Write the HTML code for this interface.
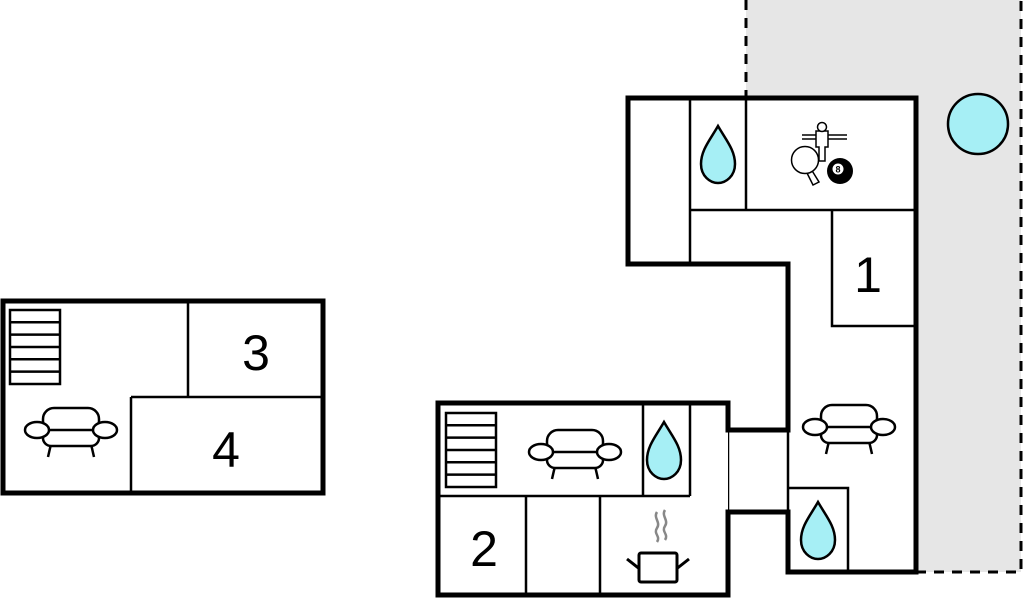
<!DOCTYPE html>
<html><head><meta charset="utf-8"><style>html,body{margin:0;padding:0;background:#fff}svg{display:block}</style></head><body>
<svg width="1024" height="598" viewBox="0 0 1024 598" xmlns="http://www.w3.org/2000/svg">
<defs>
<g id="sofa" fill="#fff" stroke="#000" stroke-width="2.5">
<line x1="-20" y1="36" x2="-23" y2="49"/><line x1="20" y1="36" x2="23" y2="49"/>
<rect x="-28" y="0" width="56" height="24" rx="11"/>
<rect x="-28" y="22" width="56" height="16" rx="8"/>
<ellipse cx="-34" cy="22" rx="12" ry="8"/><ellipse cx="34" cy="22" rx="12" ry="8"/>
</g>
<path id="drop" d="M0,0 C-8,14 -17,24 -17,38 C-17,50 -8,57 0,57 C8,57 17,50 17,38 C17,24 8,14 0,0 Z" fill="#a6eff5" stroke="#000" stroke-width="2.5"/>
<g id="stairs" fill="#fff" stroke="#000" stroke-width="2.5">
<rect x="0" y="0" width="50" height="74"/>
<line x1="0" y1="12.3" x2="50" y2="12.3"/><line x1="0" y1="24.6" x2="50" y2="24.6"/><line x1="0" y1="37" x2="50" y2="37"/><line x1="0" y1="49.3" x2="50" y2="49.3"/><line x1="0" y1="61.6" x2="50" y2="61.6"/>
</g>
</defs>
<!-- terrace -->
<polygon points="746,0 1021,0 1021,572 916,572 916,98 746,98" fill="#e6e6e6"/>
<path d="M746,0 V98 M916,572 H1021 V0" fill="none" stroke="#000" stroke-width="3" stroke-dasharray="10,8"/>
<circle cx="978" cy="124" r="30" fill="#a6eff5" stroke="#000" stroke-width="2.5"/>
<!-- building A fill -->
<polygon points="628,98 916,98 916,572 788,572 788,512 728,512 728,430 788,430 788,264 628,264" fill="#fff"/>
<g stroke="#000" stroke-width="2.5" fill="none">
<line x1="690" y1="98" x2="690" y2="264"/>
<line x1="746" y1="98" x2="746" y2="210"/>
<line x1="690" y1="210" x2="916" y2="210"/>
<polyline points="832,210 832,326 916,326"/>
<polyline points="788,488 848,488 848,572"/>
<line x1="788" y1="430" x2="788" y2="512"/>
<line x1="728" y1="430" x2="728" y2="512"/>
</g>
<g stroke="#000" stroke-width="5" fill="none" stroke-linecap="square">
<polyline points="628,264 628,98 916,98 916,572 788,572 788,512 728,512"/>
<polyline points="628,264 788,264 788,430 728,430"/>
</g>
<!-- building B -->
<rect x="438" y="403" width="290" height="194" fill="#fff"/>
<g stroke="#000" stroke-width="2.5" fill="none">
<line x1="438" y1="496" x2="690" y2="496"/>
<line x1="643" y1="403" x2="643" y2="496"/>
<line x1="690" y1="403" x2="690" y2="496"/>
<line x1="526" y1="496" x2="526" y2="597"/>
<line x1="600" y1="496" x2="600" y2="597"/>
</g>
<polyline points="728,430 728,403 438,403 438,595 728,595 728,512" stroke="#000" stroke-width="5" fill="none" stroke-linecap="square"/>
<!-- building C -->
<rect x="3" y="301" width="320" height="192" fill="#fff" stroke="#000" stroke-width="5"/>
<g stroke="#000" stroke-width="2.5" fill="none">
<line x1="188" y1="301" x2="188" y2="397"/>
<line x1="131" y1="397" x2="323" y2="397"/>
<line x1="131" y1="397" x2="131" y2="493"/>
</g>
<!-- icons -->
<use href="#stairs" x="10" y="310"/>
<use href="#stairs" x="446" y="413"/>
<use href="#sofa" transform="translate(71,408)"/>
<use href="#sofa" transform="translate(575,430)"/>
<use href="#sofa" transform="translate(849,405)"/>
<use href="#drop" x="718" y="126"/>
<use href="#drop" x="664" y="422"/>
<use href="#drop" x="818" y="502"/>
<!-- game icon -->
<g stroke="#000" stroke-width="1.5" fill="#fff">
<line x1="802" y1="135" x2="847" y2="135"/><line x1="802" y1="139" x2="847" y2="139"/>
<path d="M816,131 h12 v16 h-3 v14 h-6 v-14 h-3 z"/>
<circle cx="822" cy="127" r="4.5"/>
<path d="M806,171 l7,14 l6,-3 l-8,-13 z"/>
<circle cx="805" cy="160" r="13.5"/>
</g>
<circle cx="840" cy="171" r="13" fill="#000"/>
<circle cx="838" cy="169" r="5.5" fill="#fff"/>
<text x="838" y="172.5" font-family="Liberation Sans, sans-serif" font-size="9" font-weight="bold" text-anchor="middle">8</text>
<!-- pot -->
<g fill="none" stroke="#888" stroke-width="2.5">
<path d="M657,512 c-4,6 4,10 0,16 c-4,6 4,8 0,14"/>
<path d="M665,510 c-4,6 4,10 0,16 c-4,6 4,8 0,14"/>
</g>
<g stroke="#000" stroke-width="3" fill="#fff">
<line x1="627" y1="559" x2="641" y2="570"/><line x1="689" y1="559" x2="675" y2="570"/>
<rect x="639" y="553" width="38" height="29" rx="2"/>
</g>
<g font-family="Liberation Sans, sans-serif" font-size="50" text-anchor="middle" fill="#000">
<text x="256" y="370">3</text>
<text x="226" y="467">4</text>
<text x="868" y="292">1</text>
<text x="484" y="566">2</text>
</g>
</svg>
</body></html>
